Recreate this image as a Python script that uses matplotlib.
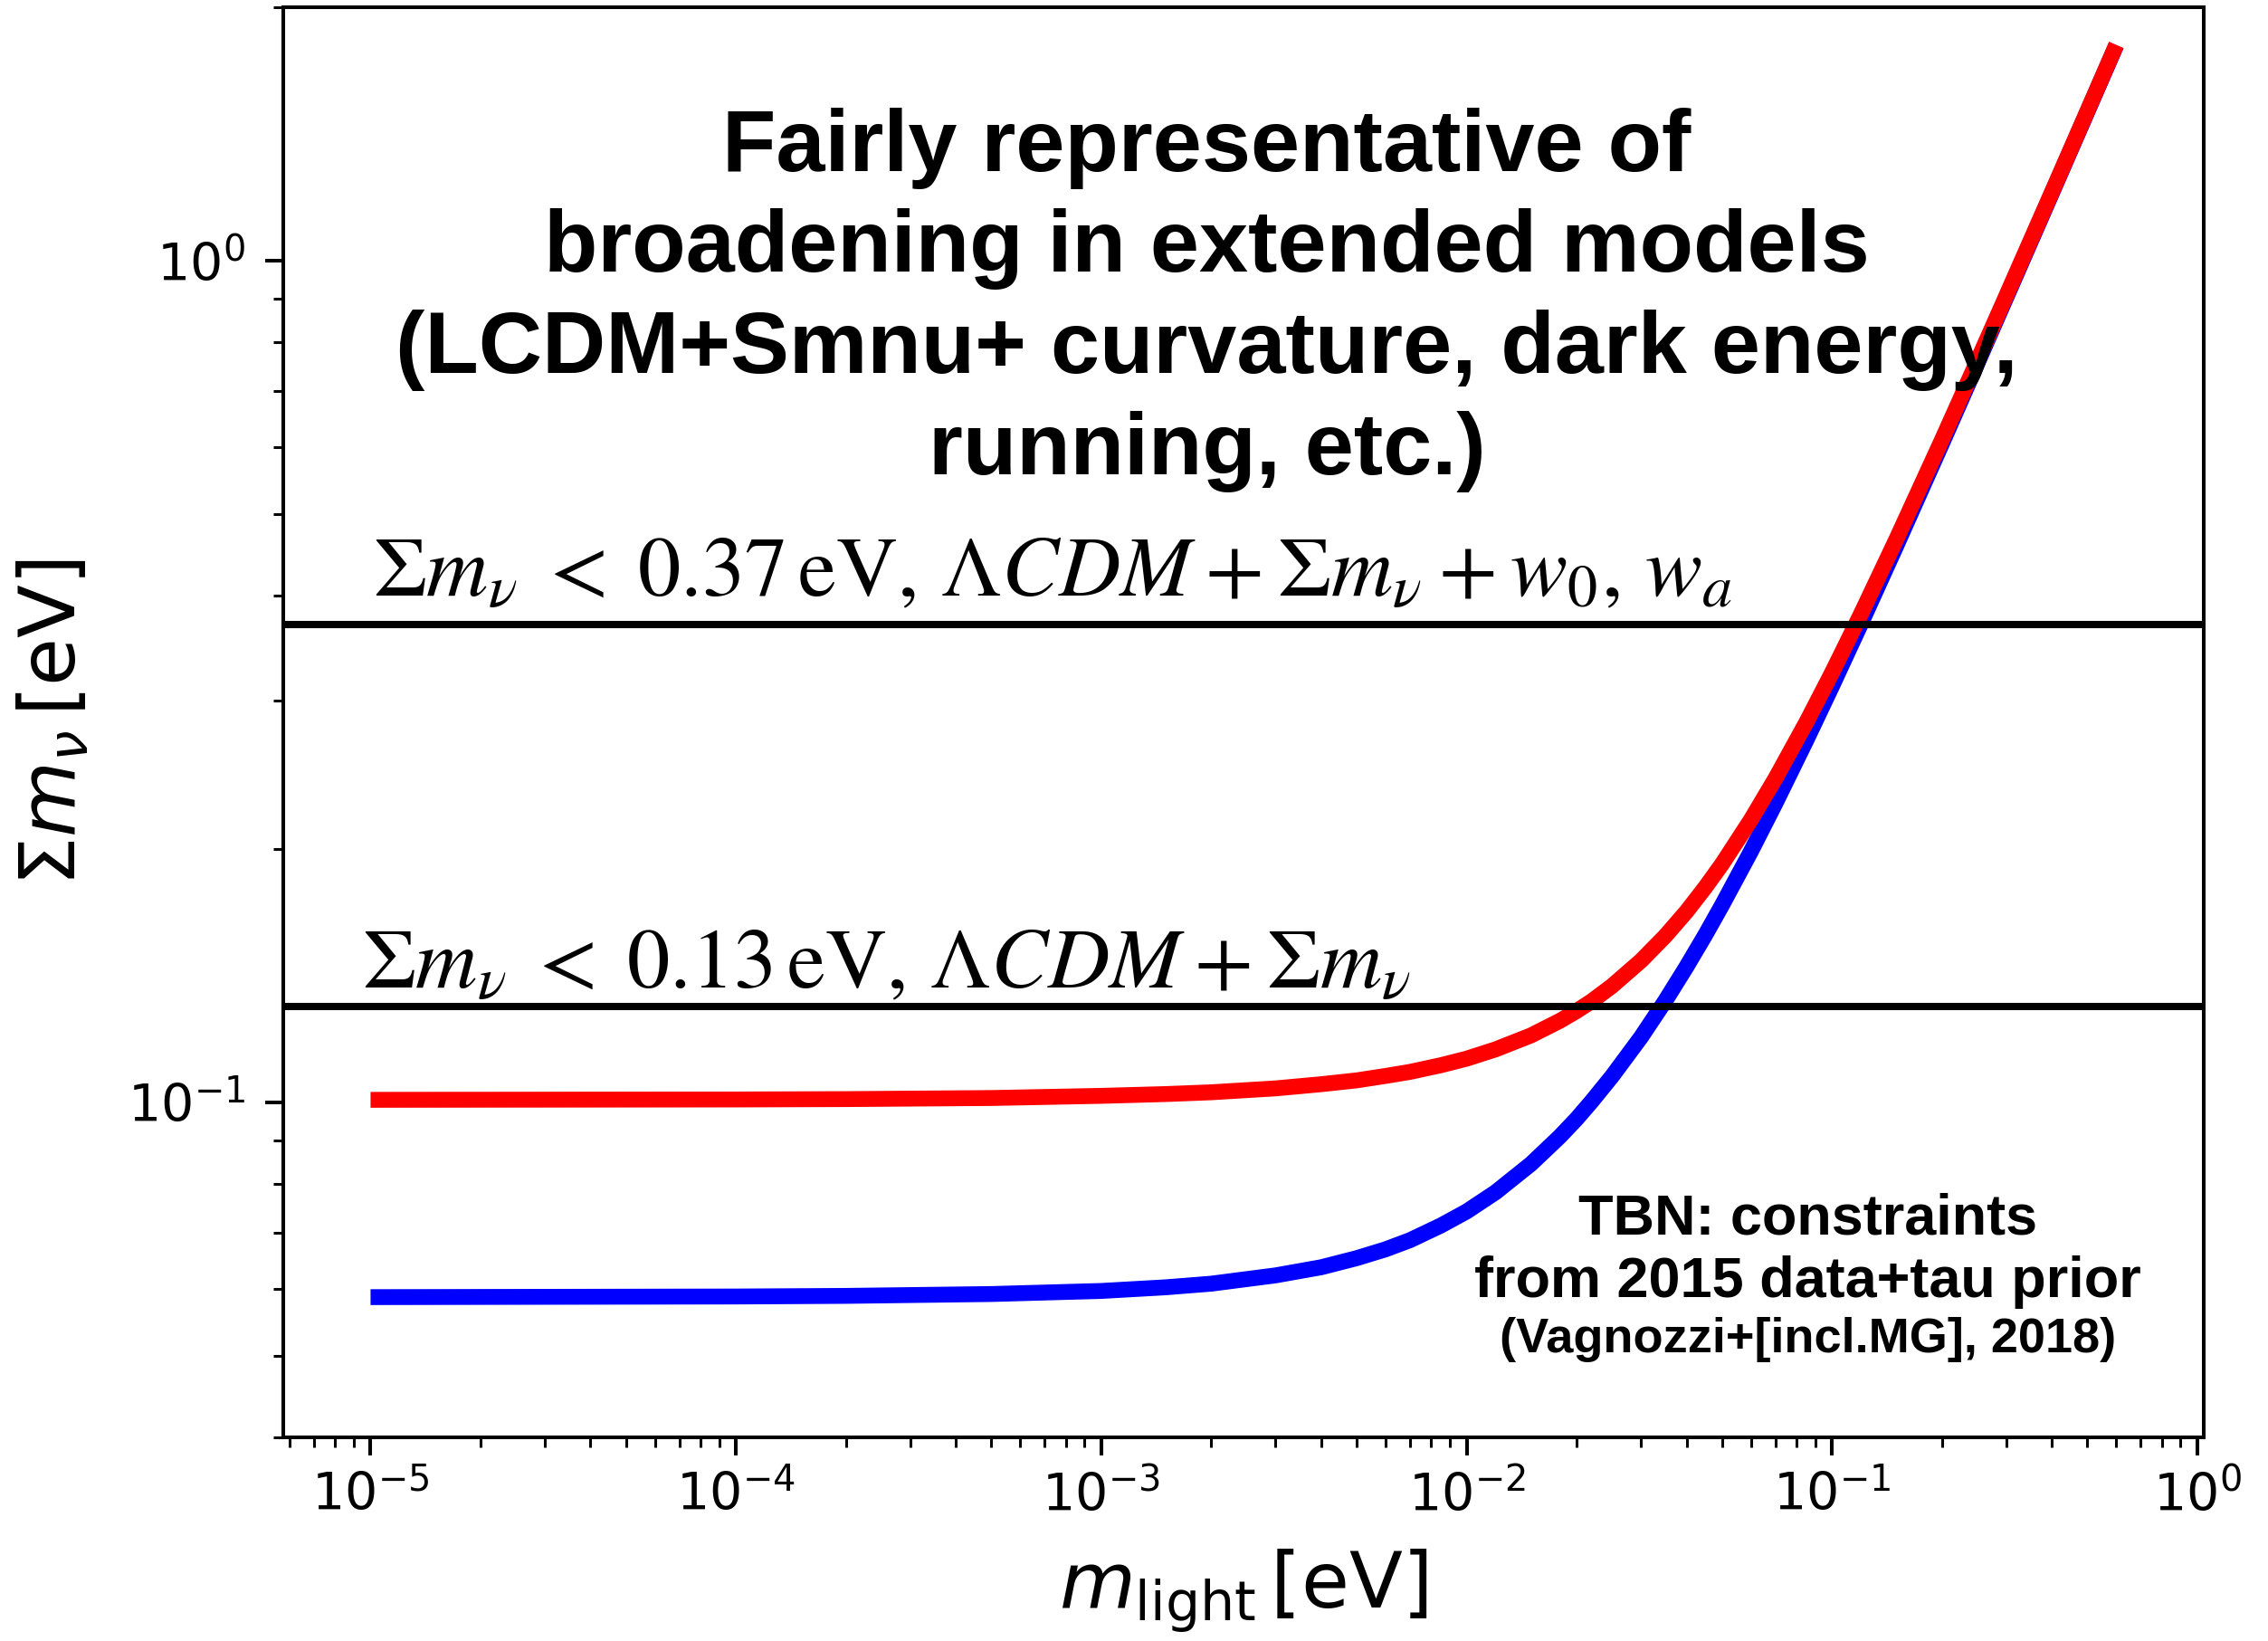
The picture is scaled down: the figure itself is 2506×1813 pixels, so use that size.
import matplotlib
matplotlib.use("Agg")
import matplotlib.pyplot as plt

# Lightest neutrino mass [eV]
m_light = [1e-5, 1e-4, 2e-4, 5e-4, 1e-3, 1.5e-3, 2e-3, 3e-3, 4e-3, 5e-3,
           6e-3, 7e-3, 8.5e-3, 1e-2, 1.2e-2, 1.5e-2, 1.8e-2, 2e-2, 2.2e-2,
           2.5e-2, 3e-2, 3.5e-2, 4e-2, 4.5e-2, 5e-2, 6e-2, 7e-2, 8.5e-2,
           0.1, 0.12, 0.15, 0.2, 0.25, 0.3, 0.4, 0.5, 0.6]

# Sum of neutrino masses [eV], normal ordering (blue)
sum_normal = [0.0587, 0.0588, 0.0589, 0.0592, 0.0597, 0.0603, 0.0609, 0.0623,
              0.0637, 0.0653, 0.0669, 0.0686, 0.0714, 0.0742, 0.0782, 0.0845,
              0.0911, 0.0956, 0.1003, 0.1074, 0.1195, 0.1321, 0.1450, 0.1581,
              0.1715, 0.1987, 0.2266, 0.2691, 0.3122, 0.3703, 0.4584, 0.6063,
              0.7551, 0.9043, 1.2032, 1.5026, 1.8021]

# Sum of neutrino masses [eV], inverted ordering (red)
sum_inverted = [0.1007, 0.1008, 0.1009, 0.1012, 0.1018, 0.1023, 0.1028, 0.1039,
                0.1051, 0.1062, 0.1075, 0.1087, 0.1107, 0.1127, 0.1156, 0.1201,
                0.1250, 0.1284, 0.1319, 0.1375, 0.1473, 0.1577, 0.1686, 0.1801,
                0.1919, 0.2167, 0.2425, 0.2826, 0.3239, 0.3803, 0.4665, 0.6125,
                0.7600, 0.9084, 1.2063, 1.5051, 1.8042]

# Cosmological upper limits [eV]
limit_ext = 0.37
limit_lcdm = 0.13

title_lines = ["Fairly representative of",
               "broadening in extended models",
               "(LCDM+Smnu+ curvature, dark energy,",
               "running, etc.)"]
note_lines = ["TBN: constraints", "from 2015 data+tau prior"]
note_ref = "(Vagnozzi+[incl.MG], 2018)"

fig = plt.figure(figsize=(12.53, 9.065), dpi=200)
ax = fig.add_axes([0.1249, 0.1241, 0.9716 - 0.1249, 0.9956 - 0.1241])

ax.plot(m_light, sum_normal, color="blue", lw=6.3,
        solid_capstyle="butt", solid_joinstyle="round")
ax.plot(m_light, sum_inverted, color="red", lw=6.3,
        solid_capstyle="butt", solid_joinstyle="round")
ax.axhline(limit_ext, color="black", lw=2.9)
ax.axhline(limit_lcdm, color="black", lw=2.9)

ax.set_xscale("log")
ax.set_yscale("log")
ax.set_ylim(0.04, 2.0)

for s in ax.spines.values():
    s.set_linewidth(1.45)
ax.tick_params(which="major", length=7.2, width=1.45, labelsize=20.5)
ax.tick_params(which="minor", length=4.0, width=1.1)
ax.tick_params(axis="y", which="major", pad=8)
ax.tick_params(axis="x", which="major", pad=6)

ax.set_xlabel(r"$m_{\mathrm{light}}\,$[eV]", fontsize=31, labelpad=10)
ax.set_ylabel(r"$\Sigma m_{\nu}\,$[eV]", fontsize=31, labelpad=14)

title_y = [0.8857, 0.8152, 0.7443, 0.6734]
for line, yy in zip(title_lines, title_y):
    ax.text(0.481, yy, line, transform=ax.transAxes, ha="center", va="baseline",
            fontsize=35, fontweight="bold", family="Liberation Sans")

ax.text(0.0467, 0.5886,
        r"$\Sigma m_{\nu}\;<\;0.37\,\mathrm{eV},\,\Lambda CDM\:+\:\Sigma m_{\nu}\:+\:w_0,\,w_a$",
        transform=ax.transAxes, ha="left", va="baseline", fontsize=34,
        math_fontfamily="stix")
ax.text(0.041, 0.3146,
        r"$\Sigma m_{\nu}\;<\;0.13\,\mathrm{eV},\,\Lambda CDM\:+\:\Sigma m_{\nu}$",
        transform=ax.transAxes, ha="left", va="baseline", fontsize=34,
        math_fontfamily="stix")

for line, yy in zip(note_lines, [0.1424, 0.0981]):
    ax.text(0.794, yy, line, transform=ax.transAxes, ha="center", va="baseline",
            fontsize=22.7, fontweight="bold", family="Liberation Sans")
ax.text(0.794, 0.0595, note_ref, transform=ax.transAxes, ha="center",
        va="baseline", fontsize=19.5, fontweight="bold", family="Liberation Sans")

fig.savefig("out.png", dpi=200)
